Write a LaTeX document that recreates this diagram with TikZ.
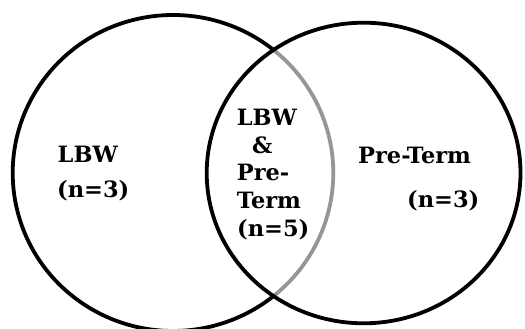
\documentclass[tikz,border=0pt]{standalone}
\usepackage{fontspec}
\newfontfamily\lblfont{DejaVu Serif}
\definecolor{arcgray}{RGB}{150,150,150}
\begin{document}
\begin{tikzpicture}[x=1pt,y=1pt,
  ring/.style={line width=3.8pt,black},
  graying/.style={line width=3.8pt,arcgray},
  lbl/.style={anchor=base west,inner sep=0pt,font=\lblfont\bfseries\fontsize{22.5}{26}\selectfont}]
\useasboundingbox (0,0) rectangle (525,329);
% left ellipse (centre 173,156) : black outer part, gray inner arc
\coordinate (cl) at (173,156);
\coordinate (cr) at (363.6,156);
\draw[ring] (cl) ++(51.1:160.3 and 158) arc[start angle=51.1,end angle=308.9,x radius=160.3,y radius=158];
\draw[graying] (cl) ++(-51.1:160.3 and 158) arc[start angle=-51.1,end angle=51.1,x radius=160.3,y radius=158];
% right ellipse
\draw[ring] (cr) ellipse[x radius=156.9,y radius=150.3];
% labels
\node[lbl] (la) at (57.5,166) {LBW};
\node[lbl] (lb) at (57,131) {(n=3)};
\node[lbl] (m1) at (236.7,203.5) {LBW};
\node[lbl] (m2) at (252,175) {\&};
\node[lbl] (m3) at (236.7,148) {Pre-};
\node[lbl] (m4) at (236.7,120) {Term};
\node[lbl] (m5) at (237,92) {(n=5)};
\node[lbl] (ra) at (358,165.5) {Pre-Term};
\node[lbl] (rb) at (407,121) {(n=3)};
\end{tikzpicture}
\end{document}
